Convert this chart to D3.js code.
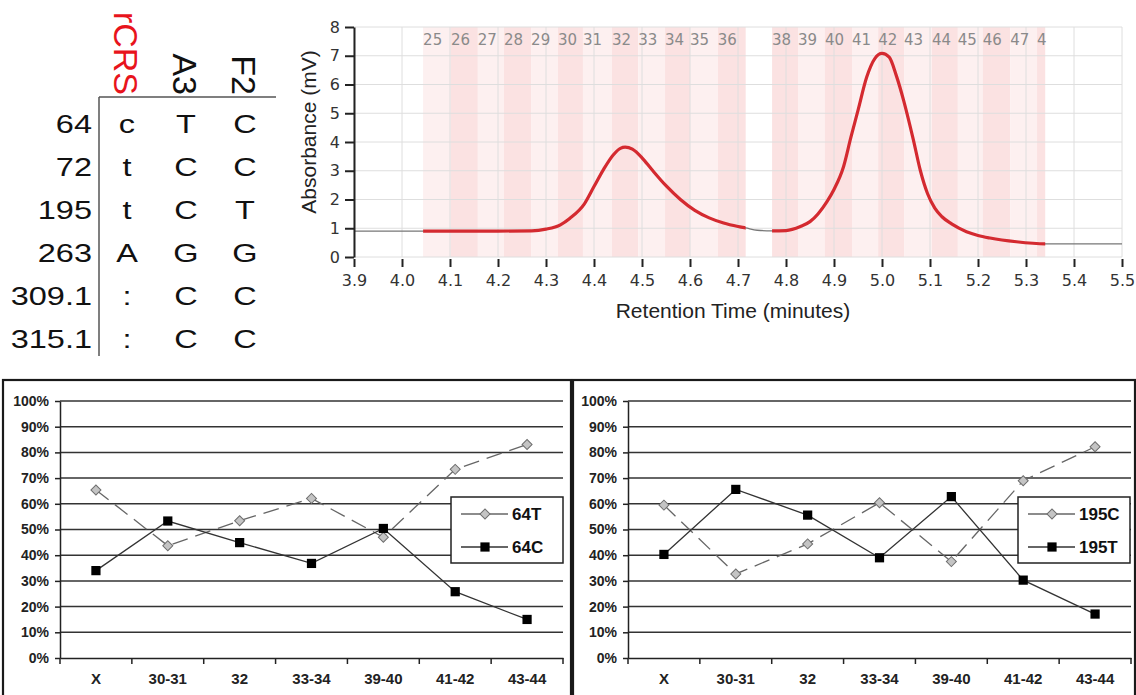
<!DOCTYPE html>
<html>
<head>
<meta charset="utf-8">
<script src="https://cdn.jsdelivr.net/npm/d3@7"></script>
<style>
  body { margin: 0; background: #fff; }
  svg { display: block; }
</style>
</head>
<body>
<svg id="canvas" width="1136" height="695"></svg>
<script>
// ---- table data ----
const positions = ["64", "72", "195", "263", "309.1", "315.1"];
const sampleNames = ["rCRS", "A3", "F2"];
const rcrsBases = ["c", "t", "t", "A", ":", ":"];
const a3Bases = ["T", "C", "C", "G", "C", "C"];
const f2Bases = ["C", "C", "T", "G", "C", "C"];

// ---- chromatogram data ----
const fractionNums = [25, 26, 27, 28, 29, 30, 31, 32, 33, 34, 35, 36,
                      38, 39, 40, 41, 42, 43, 44, 45, 46, 47, 48];
const fractionStart = [4.044, 4.102, 4.158, 4.2125, 4.269, 4.325, 4.377, 4.4375, 4.492, 4.548, 4.600, 4.658,
                       4.771, 4.825, 4.881, 4.9375, 4.992, 5.046, 5.104, 5.158, 5.210, 5.267, 5.323];
const fractionEnd = [4.716, 5.340]; // end of each collection run
const traceTime = [3.90, 4.00, 4.10, 4.20, 4.27, 4.30, 4.33, 4.35, 4.38, 4.40, 4.42, 4.44, 4.455, 4.465,
                   4.48, 4.50, 4.52, 4.55, 4.58, 4.61, 4.64, 4.67, 4.70, 4.716, 4.74, 4.77, 4.80,
                   4.83, 4.85, 4.885, 4.90, 4.92, 4.935, 4.95, 4.968, 4.985, 5.00, 5.015, 5.03, 5.045, 5.065,
                   5.08, 5.095, 5.11, 5.125, 5.145, 5.176, 5.20, 5.225, 5.28, 5.34, 5.40, 5.50];
const traceAbs = [0.90, 0.90, 0.90, 0.90, 0.91, 0.97, 1.12, 1.35, 1.85, 2.45, 3.05, 3.55, 3.78, 3.82,
                  3.75, 3.45, 3.05, 2.48, 2.00, 1.62, 1.36, 1.18, 1.06, 1.01, 0.93, 0.91, 0.92,
                  1.06, 1.23, 1.92, 2.35, 3.15, 4.15, 5.10, 6.25, 6.90, 7.08, 6.95, 6.30, 5.45, 4.10,
                  3.00, 2.20, 1.70, 1.40, 1.15, 0.88, 0.75, 0.66, 0.53, 0.46, 0.46, 0.46];
const timeTicks = [3.9, 4.0, 4.1, 4.2, 4.3, 4.4, 4.5, 4.6, 4.7, 4.8, 4.9, 5.0, 5.1, 5.2, 5.3, 5.4, 5.5];
const absTicks = [0, 1, 2, 3, 4, 5, 6, 7, 8];

// ---- allele fraction data ----
const categories = ["X", "30-31", "32", "33-34", "39-40", "41-42", "43-44"];
const pctTicks = [0, 10, 20, 30, 40, 50, 60, 70, 80, 90, 100];
const t64 = [65.4, 43.7, 53.4, 62.1, 47.0, 73.4, 83.1];
const c64 = [34.0, 53.3, 44.9, 36.8, 50.4, 25.8, 15.0];
const c195 = [59.5, 32.7, 44.4, 60.4, 37.5, 69.0, 82.2];
const t195 = [40.3, 65.6, 55.6, 39.0, 62.8, 30.3, 17.1];

let svg = d3.select("#canvas");

// ================= table =================
let drawTable = () => {
  const g = svg.append("g");
  const col = d3.scalePoint().domain(sampleNames).range([127, 245]);
  const row = d3.scalePoint().domain(positions).range([133, 348]);

  g.selectAll("text.head")
    .data(sampleNames)
    .enter()
    .append("text")
    .attr("class", "head")
    .attr("transform", d => "translate(" + (col(d) - 13) + ",95) rotate(90)")
    .attr("text-anchor", "end")
    .attr("font-family", "Liberation Sans, Arial, sans-serif")
    .attr("font-size", 34)
    .attr("fill", d => d === "rCRS" ? "#e8141c" : "#111")
    .text(d => d);

  g.append("line").attr("x1", 99).attr("x2", 276).attr("y1", 97).attr("y2", 97)
    .attr("stroke", "#555").attr("stroke-width", 1.5);
  g.append("line").attr("x1", 99).attr("x2", 99).attr("y1", 97).attr("y2", 356)
    .attr("stroke", "#555").attr("stroke-width", 1.5);

  const stretched = (sel) => sel
    .attr("font-family", "Liberation Sans, Arial, sans-serif")
    .attr("font-size", 25)
    .attr("fill", "#111");

  stretched(g.selectAll("text.pos")
    .data(positions)
    .enter()
    .append("text")
    .attr("class", "pos")
    .attr("transform", d => "translate(92," + row(d) + ") scale(1.3,1)")
    .attr("text-anchor", "end")
    .text(d => d));

  const columns = [rcrsBases, a3Bases, f2Bases];
  columns.forEach((bases, ci) => {
    stretched(g.selectAll("text.c" + ci)
      .data(bases)
      .enter()
      .append("text")
      .attr("class", "c" + ci)
      .attr("transform", (d, i) => "translate(" + col(sampleNames[ci]) + "," + row(positions[i]) + ") scale(1.3,1)")
      .attr("text-anchor", "middle")
      .text(d => d));
  });
};

// ================= chromatogram =================
let drawChromatogram = () => {
  const g = svg.append("g");
  const x = d3.scaleLinear().domain([3.9, 5.5]).range([354, 1122]);
  const y = d3.scaleLinear().domain([0, 8]).range([257, 27]);

  // fraction bands
  const bands = fractionNums.map((n, i) => {
    let end;
    if (n === 36) end = fractionEnd[0];
    else if (i === fractionNums.length - 1) end = fractionEnd[1];
    else end = fractionStart[i + 1];
    return { n: n, start: fractionStart[i], end: end };
  });

  g.selectAll("rect.band")
    .data(bands)
    .enter()
    .append("rect")
    .attr("class", "band")
    .attr("x", d => x(d.start))
    .attr("width", d => x(d.end) - x(d.start))
    .attr("y", y(8))
    .attr("height", y(0) - y(8))
    .attr("fill", d => d.n % 2 === 0 ? "#fbe2e2" : "#fdf0f0");

  // grid
  g.selectAll("line.vg")
    .data(timeTicks)
    .enter()
    .append("line")
    .attr("x1", d => x(d)).attr("x2", d => x(d))
    .attr("y1", y(8)).attr("y2", y(0))
    .attr("stroke", "#dedede").attr("stroke-width", 1);
  g.selectAll("line.hg")
    .data(absTicks)
    .enter()
    .append("line")
    .attr("x1", x(3.9)).attr("x2", x(5.5))
    .attr("y1", d => y(d)).attr("y2", d => y(d))
    .attr("stroke", "#dedede").attr("stroke-width", 1);

  // fraction labels
  g.selectAll("text.fr")
    .data(bands)
    .enter()
    .append("text")
    .attr("x", d => x(d.start))
    .attr("y", 45)
    .attr("font-family", "DejaVu Sans, sans-serif")
    .attr("font-size", 15)
    .attr("fill", "#8a8a8a")
    .text(d => d.n === 48 ? "4" : d.n);

  // trace
  const pts = traceTime.map((t, i) => [t, traceAbs[i]]);
  const line = d3.line().x(d => x(d[0])).y(d => y(d[1])).curve(d3.curveMonotoneX);

  g.append("path").attr("d", line(pts))
    .attr("fill", "none").attr("stroke", "#777").attr("stroke-width", 1.3);

  const clip = svg.append("defs").append("clipPath").attr("id", "runs");
  clip.selectAll("rect")
    .data([[fractionStart[0], fractionEnd[0]], [fractionStart[12], fractionEnd[1]]])
    .enter()
    .append("rect")
    .attr("x", d => x(d[0])).attr("width", d => x(d[1]) - x(d[0]))
    .attr("y", 0).attr("height", 300);

  g.append("path").attr("d", line(pts))
    .attr("clip-path", "url(#runs)")
    .attr("fill", "none").attr("stroke", "#d42a30").attr("stroke-width", 3.2)
    .attr("stroke-linejoin", "round");

  // axes
  const yAxis = g.append("g")
    .attr("transform", "translate(" + x(3.9) + ",0)")
    .call(d3.axisLeft(y).tickValues(absTicks).tickSize(9).tickPadding(5).tickSizeOuter(0));
  yAxis.select(".domain").attr("stroke", "#222").attr("stroke-width", 2);
  yAxis.selectAll(".tick line").attr("stroke", "#222").attr("stroke-width", 2);
  yAxis.selectAll("text").attr("font-family", "DejaVu Sans, sans-serif").attr("font-size", 16).attr("fill", "#333");

  const xAxis = g.append("g")
    .attr("transform", "translate(0,259)")
    .call(d3.axisBottom(x).tickValues(timeTicks).tickFormat(d3.format(".1f")).tickSize(8).tickPadding(8));
  xAxis.select(".domain").remove();
  xAxis.selectAll(".tick line").attr("stroke", "#222").attr("stroke-width", 2);
  xAxis.selectAll("text").attr("font-family", "DejaVu Sans, sans-serif").attr("font-size", 16).attr("fill", "#333");

  g.append("text")
    .attr("transform", "translate(316,132) rotate(-90)")
    .attr("text-anchor", "middle")
    .attr("font-family", "Liberation Sans, Arial, sans-serif")
    .attr("font-size", 21)
    .attr("fill", "#222")
    .text("Absorbance (mV)");
  g.append("text")
    .attr("x", 733).attr("y", 318)
    .attr("text-anchor", "middle")
    .attr("font-family", "Liberation Sans, Arial, sans-serif")
    .attr("font-size", 21)
    .attr("fill", "#222")
    .text("Retention Time (minutes)");
};

// ================= allele panels =================
const diamond = d3.symbol().type(d3.symbolSquare).size(50);
const square = d3.symbol().type(d3.symbolSquare).size(85);

let drawPanel = (frameX, frameW, left, legendX, diamondName, diamondVals, squareName, squareVals) => {
  const g = svg.append("g");
  g.append("rect")
    .attr("x", frameX).attr("y", 380).attr("width", frameW).attr("height", 330)
    .attr("fill", "#fff").attr("stroke", "#1a1a1a").attr("stroke-width", 2.2);

  const x = d3.scaleBand().domain(categories).range([left, left + 503]);
  const y = d3.scaleLinear().domain([0, 100]).range([658, 401]);
  const cx = d => x(d) + x.bandwidth() / 2;

  g.selectAll("line.grid")
    .data(pctTicks.slice(1))
    .enter()
    .append("line")
    .attr("x1", left).attr("x2", left + 503)
    .attr("y1", d => y(d)).attr("y2", d => y(d))
    .attr("stroke", "#333").attr("stroke-width", 1.5);

  const yAxis = g.append("g")
    .attr("transform", "translate(" + left + ",0)")
    .call(d3.axisLeft(y).tickValues(pctTicks).tickFormat(d => d + "%").tickSize(5).tickPadding(6).tickSizeOuter(0));
  yAxis.select(".domain").attr("stroke", "#222").attr("stroke-width", 1.5);
  yAxis.selectAll(".tick line").attr("stroke", "#222").attr("stroke-width", 1.5);
  yAxis.selectAll("text").attr("font-family", "Liberation Sans, Arial, sans-serif")
    .attr("font-size", 14).attr("font-weight", "bold").attr("fill", "#222");

  const xAxis = g.append("g")
    .attr("transform", "translate(0," + y(0) + ")")
    .call(d3.axisBottom(x).tickSize(0).tickPadding(15));
  xAxis.select(".domain").attr("stroke", "#222").attr("stroke-width", 1.5);
  xAxis.selectAll("text").attr("font-family", "Liberation Sans, Arial, sans-serif")
    .attr("font-size", 15).attr("font-weight", "bold").attr("fill", "#222");
  g.selectAll("line.xt")
    .data(categories.concat(["end"]))
    .enter()
    .append("line")
    .attr("x1", (d, i) => left + i * x.step()).attr("x2", (d, i) => left + i * x.step())
    .attr("y1", y(0)).attr("y2", y(0) + 6)
    .attr("stroke", "#222").attr("stroke-width", 1.5);

  const line = d3.line().x((d, i) => cx(categories[i])).y(d => y(d));

  g.append("path").attr("d", line(diamondVals))
    .attr("fill", "none").attr("stroke", "#666").attr("stroke-width", 1.3)
    .attr("stroke-dasharray", "16,8");
  g.append("path").attr("d", line(squareVals))
    .attr("fill", "none").attr("stroke", "#333").attr("stroke-width", 1.3);

  g.selectAll("path.dm")
    .data(diamondVals)
    .enter()
    .append("path")
    .attr("d", diamond)
    .attr("transform", (d, i) => "translate(" + cx(categories[i]) + "," + y(d) + ") rotate(45)")
    .attr("fill", "#c4c4c4").attr("stroke", "#6e6e6e").attr("stroke-width", 1);
  g.selectAll("path.sq")
    .data(squareVals)
    .enter()
    .append("path")
    .attr("d", square)
    .attr("transform", (d, i) => "translate(" + cx(categories[i]) + "," + y(d) + ")")
    .attr("fill", "#000");

  // legend
  const lg = g.append("g").attr("transform", "translate(" + legendX + ",497)");
  lg.append("rect").attr("width", 112).attr("height", 66)
    .attr("fill", "#fff").attr("stroke", "#222").attr("stroke-width", 1.5);
  const items = [
    { name: diamondName, kind: "d", y: 17 },
    { name: squareName, kind: "s", y: 50 }
  ];
  items.forEach(it => {
    lg.append("line").attr("x1", 10).attr("x2", 57).attr("y1", it.y).attr("y2", it.y)
      .attr("stroke", it.kind === "d" ? "#666" : "#333").attr("stroke-width", 1.3);
    lg.append("path")
      .attr("d", it.kind === "d" ? diamond : square)
      .attr("transform", "translate(34," + it.y + ")" + (it.kind === "d" ? " rotate(45)" : ""))
      .attr("fill", it.kind === "d" ? "#c4c4c4" : "#000")
      .attr("stroke", it.kind === "d" ? "#6e6e6e" : "none");
    lg.append("text").attr("x", 61).attr("y", it.y + 6)
      .attr("font-family", "Liberation Sans, Arial, sans-serif")
      .attr("font-size", 17).attr("font-weight", "bold").attr("fill", "#111")
      .text(it.name);
  });
};

drawTable();
drawChromatogram();
drawPanel(3, 568, 60, 451, "64T", t64, "64C", c64);
drawPanel(573, 562, 628, 1018, "195C", c195, "195T", t195);
</script>
</body>
</html>
